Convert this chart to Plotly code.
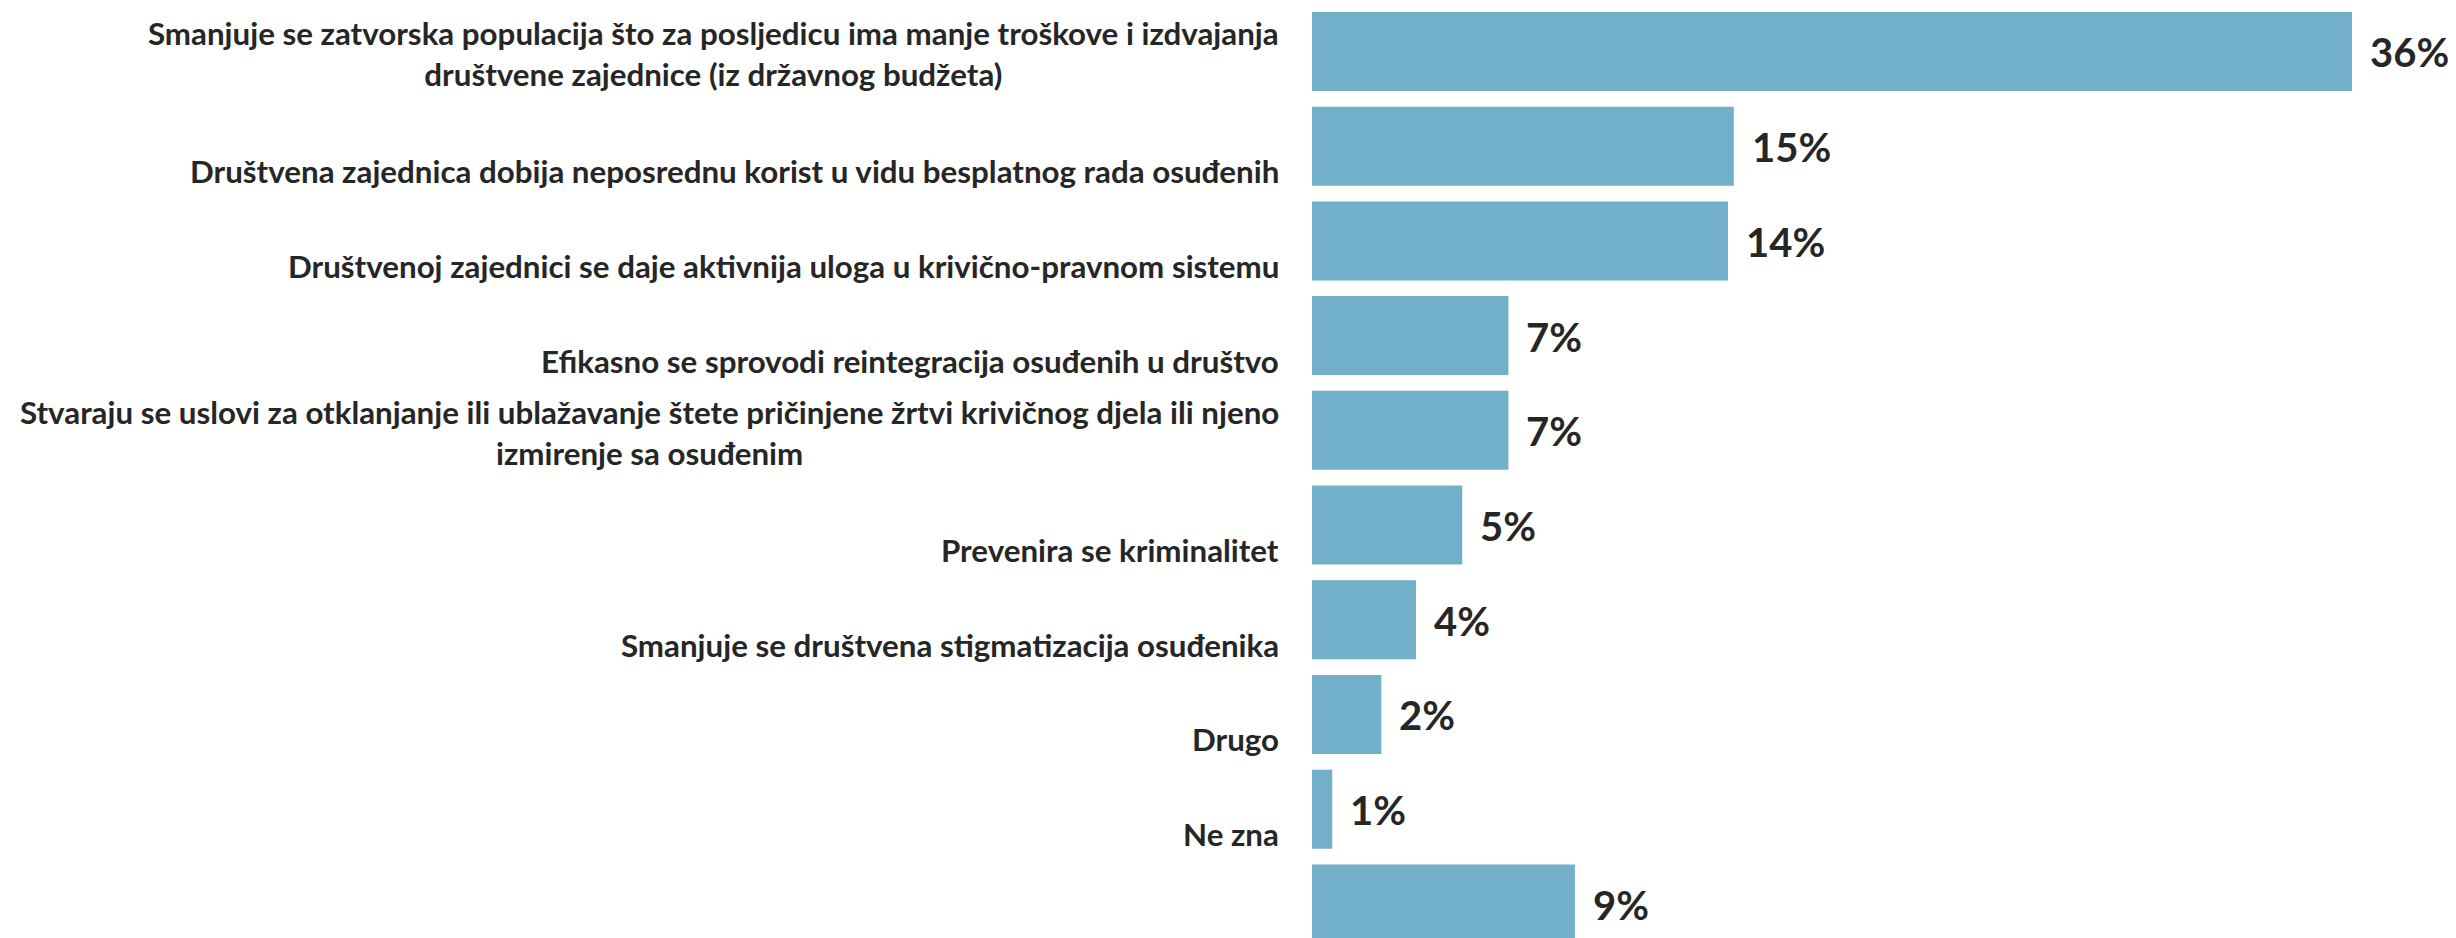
import plotly.graph_objects as go

categories = [
    "Smanjuje se zatvorska populacija što za posljedicu ima manje troškove i izdvajanja<br>društvene zajednice (iz državnog budžeta)",
    "Društvena zajednica dobija neposrednu korist u vidu besplatnog rada osuđenih",
    "Društvenoj zajednici se daje aktivnija uloga u krivično-pravnom sistemu",
    "Efikasno se sprovodi reintegracija osuđenih u društvo",
    "Stvaraju se uslovi za otklanjanje ili ublažavanje štete pričinjene žrtvi krivičnog djela ili njeno<br>izmirenje sa osuđenim",
    "Prevenira se kriminalitet",
    "Smanjuje se društvena stigmatizacija osuđenika",
    "Drugo",
    "Ne zna",
    " ",
]
values = [36.0, 14.6, 14.4, 6.8, 6.8, 5.2, 3.6, 2.4, 0.7, 9.1]
value_labels = ["36%", "15%", "14%", "7%", "7%", "5%", "4%", "2%", "1%", "9%"]

BAR_COLOR = "#71B0C8"
TEXT_COLOR = "#262626"
FONT = "Lato"

fig = go.Figure(
    go.Bar(
        x=values,
        y=categories,
        orientation="h",
        marker=dict(color=BAR_COLOR, line=dict(width=0)),
        hoverinfo="skip",
    )
)

annotations = []
for cat, v, lab in zip(categories, values, value_labels):
    annotations.append(dict(
        x=v, y=cat, xref="x", yref="y", text=lab, showarrow=False,
        xanchor="left", yanchor="middle", xshift=16, yshift=-1,
        font=dict(family=FONT, size=40, color=TEXT_COLOR, weight="bold"),
    ))
    if cat.strip():
        two_line = "<br>" in cat
        annotations.append(dict(
            x=0, y=cat, xref="x", yref="y", text=cat, showarrow=False,
            xanchor="right", yanchor="middle", align="center",
            xshift=-31, yshift=(-2 if two_line else -25),
            font=dict(family=FONT, size=31.3, color=TEXT_COLOR, weight="bold"),
        ))

fig.update_layout(
    width=2448, height=930,
    margin=dict(l=1304, r=0, t=0, b=0),
    paper_bgcolor="white", plot_bgcolor="white",
    bargap=0.166,
    showlegend=False,
    xaxis=dict(range=[0, 39.6], visible=False, fixedrange=True),
    yaxis=dict(type="category", categoryarray=categories, range=[9.36, -0.459],
               showticklabels=False, showgrid=False, zeroline=False, showline=False,
               ticks="", fixedrange=True),
    annotations=annotations,
)

fig.write_html("out.html", config={"displayModeBar": False})
